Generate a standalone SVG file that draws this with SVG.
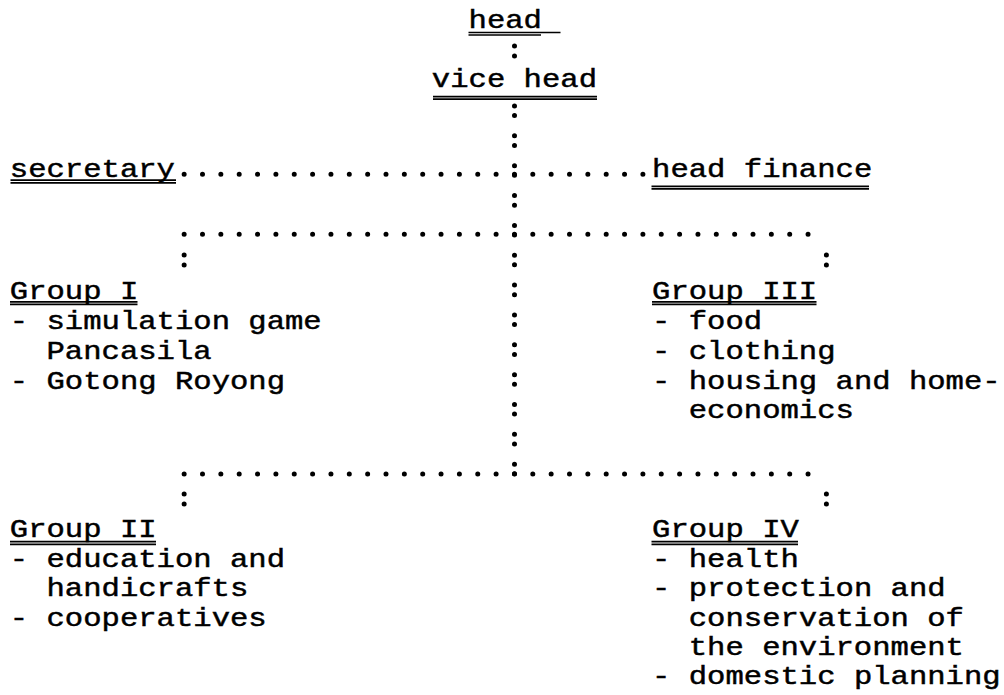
<svg xmlns="http://www.w3.org/2000/svg" width="1004" height="695" viewBox="0 0 1004 695">
<style>
.t{font-family:"Liberation Mono","Courier New",monospace;font-size:30.583px;fill:#000;stroke:#000;stroke-width:0.55}
.u{stroke:#000;stroke-width:1.7;fill:none}
.d{stroke:#000;stroke-width:5;stroke-linecap:round;fill:none}
.h{stroke-dasharray:0 18.35}
.c{stroke-dasharray:0 10 0 50}
</style>
<rect width="1004" height="695" fill="#fff"/>
<g id="connectors">
<path class="d c" d="M514.5 46V56.1"/>
<path class="d" style="stroke-dasharray:0 9.6 0 20.25" d="M514.5 106V474.1"/>
<path class="d h" d="M184.15 174.3H643"/>
<path class="d h" d="M184.15 234.3H808.1"/>
<path class="d h" d="M184.15 474H808.1"/>
<path class="d c" d="M184.15 255V265.1"/>
<path class="d c" d="M826.4 255V265.1"/>
<path class="d c" d="M184.15 494V504.1"/>
<path class="d c" d="M826.4 494V504.1"/>
</g>
<g id="head">
<g transform="scale(1 0.85)"><text class="t" x="468.55" y="33.53">head</text></g>
<path class="u" d="M468.5 32.5H560.5M468.5 35H541"/>
</g>
<g id="vice-head">
<g transform="scale(1 0.85)"><text class="t" x="431.85" y="102.94">vice head</text></g>
<path class="u" d="M433 96.7H597M433 99.2H597"/>
</g>
<g id="secretary">
<g transform="scale(1 0.85)"><text class="t" x="9.8" y="208.24">secretary</text></g>
<path class="u" d="M10.5 180.2H176M10.5 182.8H176"/>
</g>
<g id="head-finance">
<g transform="scale(1 0.85)"><text class="t" x="652.05" y="208.82">head finance</text></g>
<path class="u" d="M651.5 186.3H869M651.5 188.9H869"/>
</g>
<g id="group-i">
<g transform="scale(1 0.85)">
<text class="t" x="9.8" y="352.12">Group I</text>
<text class="t" x="9.8" y="387.65">- simulation game</text>
<text class="t" x="46.5" y="422.35">Pancasila</text>
<text class="t" x="9.8" y="457.65">- Gotong Royong</text>
</g>
<path class="u" d="M10 301.8H137.5M10 304.4H137.5"/>
</g>
<g id="group-iii">
<g transform="scale(1 0.85)">
<text class="t" x="652.05" y="352.12">Group III</text>
<text class="t" x="652.05" y="387.65">- food</text>
<text class="t" x="652.05" y="422.35">- clothing</text>
<text class="t" x="652.05" y="457.65">- housing and home-</text>
<text class="t" x="688.75" y="492.35">economics</text>
</g>
<path class="u" d="M652 301.8H816.5M652 304.4H816.5"/>
</g>
<g id="group-ii">
<g transform="scale(1 0.85)">
<text class="t" x="9.8" y="632.35">Group II</text>
<text class="t" x="9.8" y="666.71">- education and</text>
<text class="t" x="46.5" y="701.76">handicrafts</text>
<text class="t" x="9.8" y="736.47">- cooperatives</text>
</g>
<path class="u" d="M10 541.7H156M10 544.3H156"/>
</g>
<g id="group-iv">
<g transform="scale(1 0.85)">
<text class="t" x="652.05" y="632.35">Group IV</text>
<text class="t" x="652.05" y="666.71">- health</text>
<text class="t" x="652.05" y="701.76">- protection and</text>
<text class="t" x="688.75" y="736.47">conservation of</text>
<text class="t" x="688.75" y="770.59">the environment</text>
<text class="t" x="652.05" y="805.06">- domestic planning</text>
</g>
<path class="u" d="M651.5 541.7H798M651.5 544.3H798"/>
</g>
</svg>
